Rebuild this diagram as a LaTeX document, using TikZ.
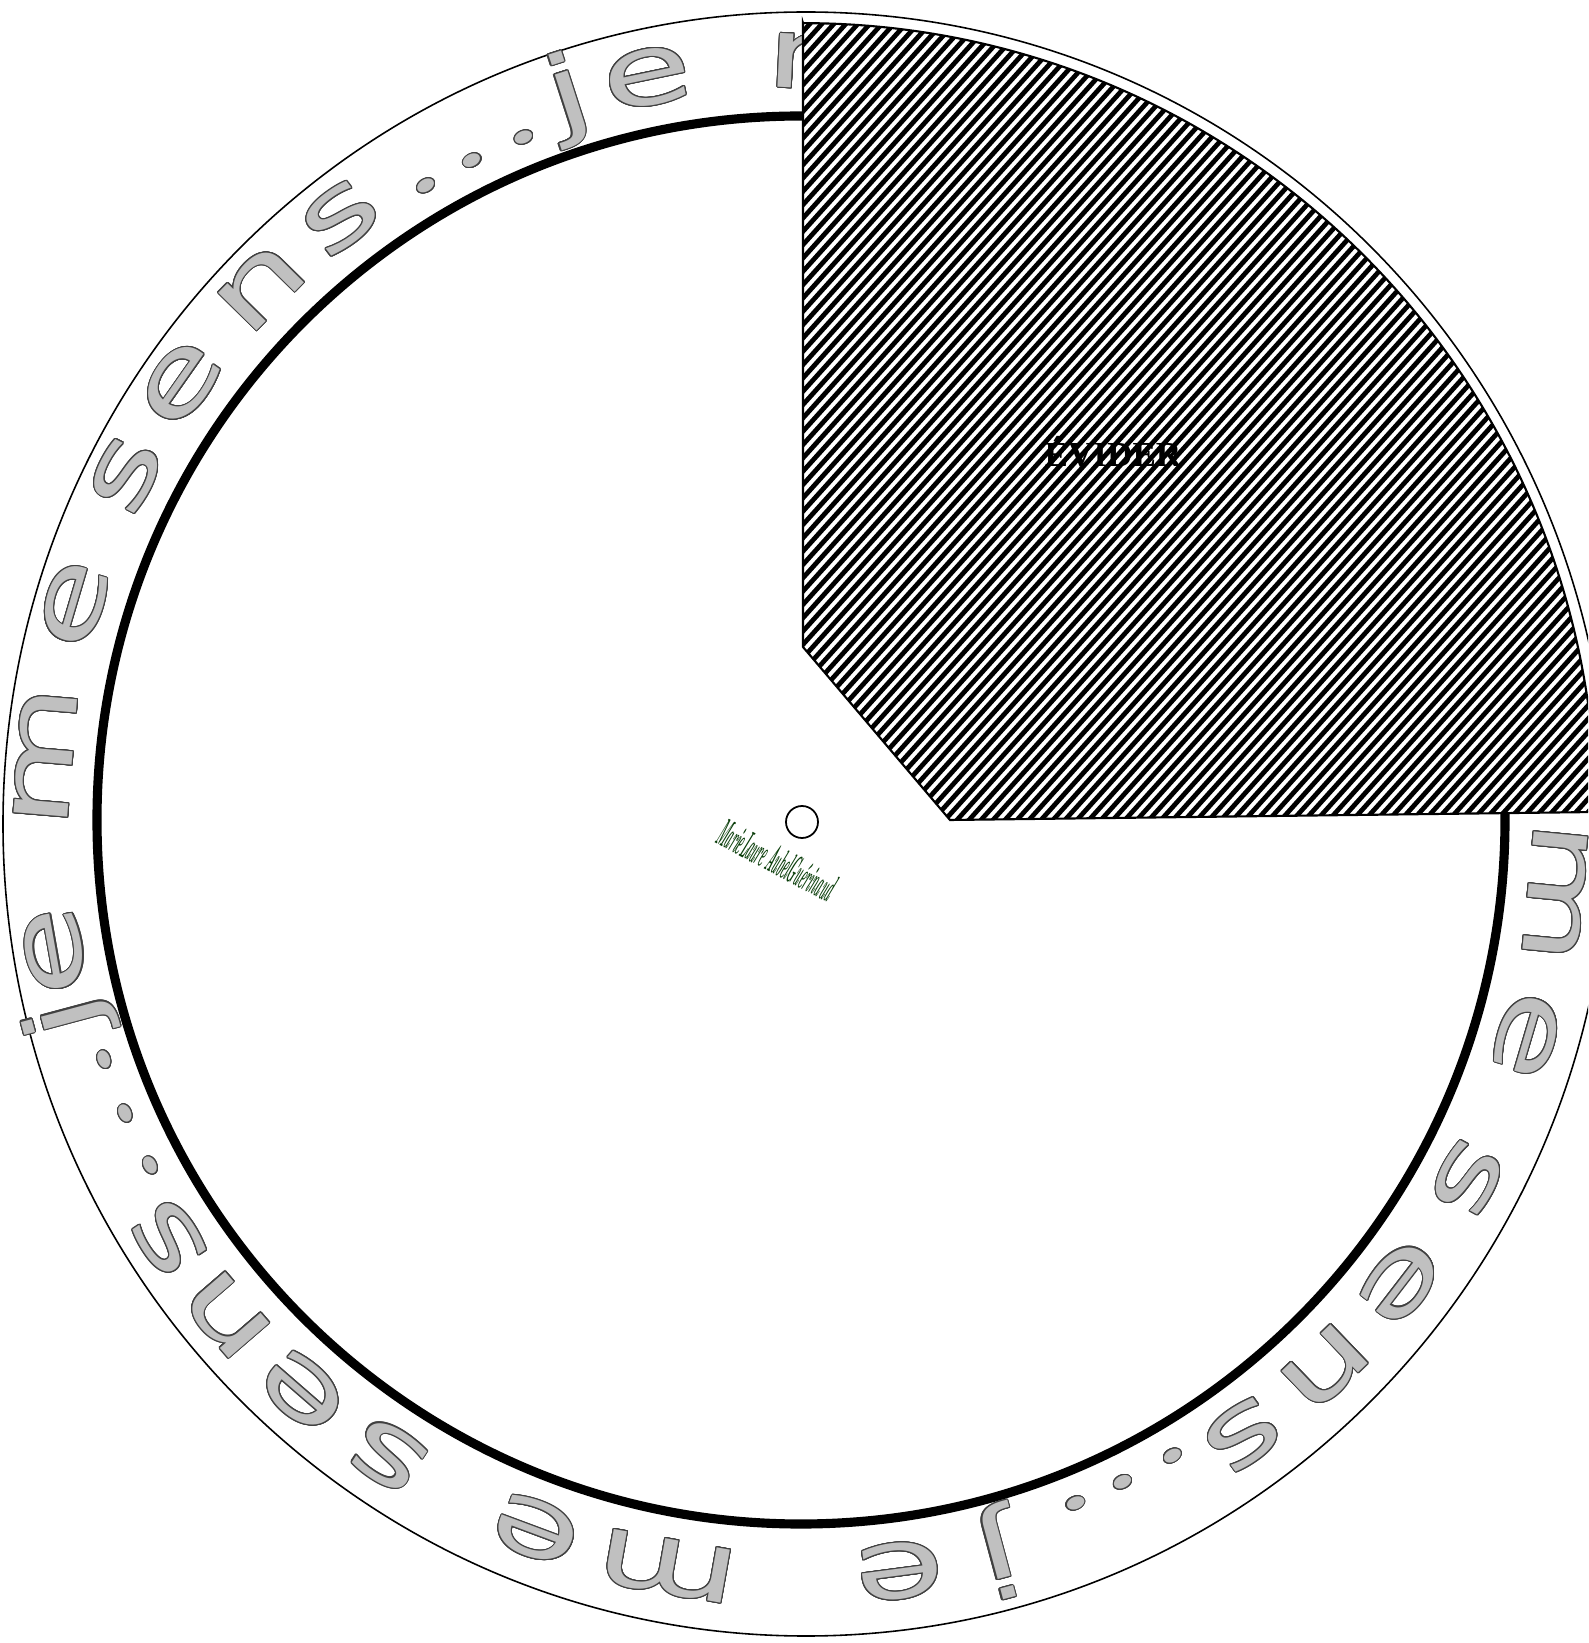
\documentclass[tikz,border=0pt]{standalone}
\usepackage{fontspec}
\usepackage[copies]{contour}
\usetikzlibrary{positioning}
\newfontfamily\ringfont[FakeStretch=1.5]{DejaVu Sans}
\newfontfamily\dotfont[FakeStretch=1.5]{Poppins}
\newfontfamily\cutfont{Liberation Serif}
\definecolor{ringgray}{HTML}{C0C0C0}
\definecolor{signgreen}{RGB}{8,60,8}
\contourlength{0.3pt}
\contournumber{24}

\begin{document}
\begin{tikzpicture}[
  rim/.style={draw=black, line width=0.45pt},
  band/.style={draw=black, line width=2.6pt},
  ringletter/.style={anchor=base, inner sep=0pt, text=ringgray,
                     font=\ringfont\fontsize{28}{28}\selectfont},
  hatchline/.style={line width=1.35pt, black},
  cutout/.style={draw=black, line width=0.6pt},
  cutlabel/.style={font=\cutfont\bfseries\fontsize{10}{12}\selectfont},
  hole/.style={draw=black, circle, line width=0.5pt, minimum size=0.32cm, inner sep=0pt},
  signature/.style={text=signgreen, inner sep=0pt, font=\bfseries\itshape\fontsize{6}{6}\selectfont},
]
\useasboundingbox (-8.01,-8.23) rectangle (7.87,8.20);
\clip (-8.01,-8.23) rectangle (7.87,8.20);

% --- Disc outline and inner band ---
\draw[rim] (0.05,-0.04) ellipse[x radius=8.03, y radius=8.12];
\draw[band] (0,0) circle[radius=7.04];

% --- Lettering round the rim (clockwise) ---
\foreach \ch/\ang [count=\k] in {m/-5.5, e/-16.5, s/-28.3, e/-37.6, n/-46.2, s/-54.3,
    {\dotfont.}/-59.7, {\dotfont.}/-64.1, {\dotfont.}/-68.1,
    j/-75, e/-82.5, m/-100.1, e/-110.4, s/-123, e/-131, n/-139.2, s/-146.5,
    {\dotfont.}/-152, {\dotfont.}/-156.5, {\dotfont.}/-161,
    j/-165, e/-170, m/-184.8, e/-196.5, s/-207.1, e/-215.1, n/-224.6, s/-232.6,
    {\dotfont.}/-239.4, {\dotfont.}/-243.5, {\dotfont.}/-247.9,
    j/-252.2, e/-258.3, m/-272.8}
  \node[ringletter, rotate=\ang-90] (letter\k) at (\ang:7.31) {\contour{black!75}{\ch}};

% --- Window to cut out ---
\coordinate (cutA) at (0.02,7.97);
\coordinate (cutB) at (0.02,1.73);
\coordinate (cutC) at (1.49,0);
\coordinate (cutD) at (7.95,0.08);
\begin{scope}
  \clip (cutA) -- (cutB) -- (cutC) -- (cutD) arc[start angle=0.3, end angle=90, radius=7.93] -- cycle;
  \fill[white] (-1,-1) rectangle (9,9);
  \foreach \i in {-65,...,70}
    \draw[hatchline] (\i*0.12,0) ++(228:0.5) -- ++(48:11.5);
\end{scope}
\draw[cutout] (cutA) -- (cutB) -- (cutC) -- (cutD) arc[start angle=0.3, end angle=90, radius=7.93] -- cycle;

\node[cutlabel] (evider) at (3.12,3.68) {ÉVIDER};

% --- Centre hole and signature ---
\node[hole] (axis) at (0.01,-0.02) {};
\node[signature, rotate=-28] (sign) at (-0.24,-0.4) {\scalebox{0.42}[1.9]{MarieLaure AubelGuérinaud}};

\end{tikzpicture}
\end{document}
